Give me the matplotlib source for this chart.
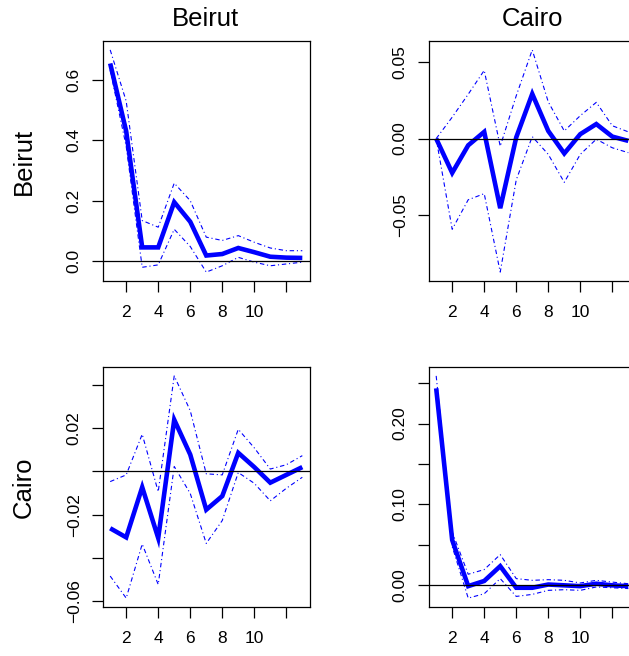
import matplotlib
matplotlib.use("Agg")
import matplotlib.pyplot as plt

plt.rcParams['font.family'] = ['Liberation Sans', 'DejaVu Sans']

periods = list(range(1, 14))
x_ticks = [2, 4, 6, 8, 10, 12]
x_ticklabels = ["2", "4", "6", "8", "10", ""]

variables = ["Beirut", "Cairo"]

# Response of Beirut to Beirut shock
bb_irf = [0.655, 0.43, 0.045, 0.045, 0.195, 0.13, 0.018, 0.023, 0.043, 0.029, 0.014, 0.011, 0.010]
bb_up = [0.700, 0.53, 0.134, 0.112, 0.258, 0.200, 0.079, 0.068, 0.084, 0.062, 0.043, 0.034, 0.034]
bb_lo = [0.633, 0.38, -0.021, -0.013, 0.105, 0.048, -0.037, -0.016, 0.012, -0.004, -0.016, -0.010, -0.004]
bb_ticks = [0.0, 0.2, 0.4, 0.6]
bb_ticklabels = ["0.0", "0.2", "0.4", "0.6"]

# Response of Cairo to Beirut shock
cb_irf = [0.0, -0.0224, -0.0044, 0.0044, -0.0455, 0.0008, 0.0292, 0.005, -0.0097, 0.0029, 0.0095, 0.0013, -0.0015]
cb_up = [0.0, 0.014, 0.029, 0.0446, -0.005, 0.028, 0.058, 0.024, 0.005, 0.015, 0.0237, 0.0084, 0.0044]
cb_lo = [0.0, -0.0593, -0.040, -0.036, -0.0873, -0.027, 0.0013, -0.0103, -0.0286, -0.0103, -0.0004, -0.006, -0.0092]
cb_ticks = [-0.05, 0.0, 0.05]
cb_ticklabels = ["-0.05", "0.00", "0.05"]

# Response of Beirut to Cairo shock
bc_irf = [-0.0263, -0.0305, -0.0073, -0.0308, 0.0239, 0.0078, -0.0177, -0.0114, 0.0086, 0.0020, -0.0052, -0.0016, 0.0020]
bc_up = [-0.0047, -0.0016, 0.0172, -0.0094, 0.0442, 0.0281, -0.0011, -0.0016, 0.0195, 0.0109, 0.0011, 0.0031, 0.0073]
bc_lo = [-0.0484, -0.0586, -0.0336, -0.0523, 0.0023, -0.0102, -0.0333, -0.0227, -0.0005, -0.0055, -0.0136, -0.0078, -0.0027]
bc_ticks = [-0.06, -0.04, -0.02, 0.0, 0.02, 0.04]
bc_ticklabels = ["-0.06", "", "-0.02", "", "0.02", ""]

# Response of Cairo to Cairo shock
cc_irf = [0.2436, 0.056, -0.001, 0.0054, 0.0237, -0.003, -0.003, 0.001, 0.0, -0.001, 0.002, 0.0, -0.001]
cc_up = [0.259, 0.066, 0.0137, 0.0195, 0.038, 0.0083, 0.0062, 0.007, 0.0062, 0.0029, 0.0062, 0.004, 0.002]
cc_lo = [0.234, 0.048, -0.0158, -0.0104, 0.0083, -0.0137, -0.0112, -0.0062, -0.0054, -0.0062, -0.002, -0.003, -0.004]
cc_ticks = [0.0, 0.05, 0.10, 0.15, 0.20, 0.25]
cc_ticklabels = ["0.00", "", "0.10", "", "0.20", ""]

W, H = 629, 656
fig = plt.figure(figsize=(W / 100, H / 100), dpi=100)

panels = [
    # (left px, top px, bottom px, irf, up, lo, ticks, labels)
    (102.5, 41, 281, bb_irf, bb_up, bb_lo, bb_ticks, bb_ticklabels),
    (428.5, 41, 281, cb_irf, cb_up, cb_lo, cb_ticks, cb_ticklabels),
    (102.5, 367, 607, bc_irf, bc_up, bc_lo, bc_ticks, bc_ticklabels),
    (428.5, 367, 607, cc_irf, cc_up, cc_lo, cc_ticks, cc_ticklabels),
]
axes = []
for (lpx, tpx, bpx, irf, up, lo, yt, ytl) in panels:
    wpx = 207.5
    ax = fig.add_axes([lpx / W, (H - bpx) / H, wpx / W, (bpx - tpx) / H])
    ax.plot(periods, up, color='#0000FF', lw=0.8, ls=(0, (4, 2.5, 1, 2.5)))
    ax.plot(periods, lo, color='#0000FF', lw=0.8, ls=(0, (4, 2.5, 1, 2.5)))
    ax.plot(periods, irf, color='#0000FF', lw=3.3, solid_joinstyle='miter', solid_capstyle='butt')
    ax.axhline(0, color='black', lw=0.9)
    ax.margins(x=0.04, y=0.04)
    ax.set_xticks(x_ticks)
    ax.set_xticklabels(x_ticklabels)
    ax.set_yticks(yt)
    ax.set_yticklabels([s.replace('-', '\u2212') for s in ytl], rotation=90, va='center')
    ax.tick_params(axis='x', length=8, width=0.9, pad=9, labelsize=12.5, direction='out')
    ax.tick_params(axis='y', length=8, width=0.9, pad=7, labelsize=12.5, direction='out')
    for s in ax.spines.values():
        s.set_linewidth(0.9)
    axes.append(ax)

fig.text(205 / W, 1 - 19 / H, variables[0], ha='center', va='center', fontsize=18.5)
fig.text(532.5 / W, 1 - 19 / H, variables[1], ha='center', va='center', fontsize=18.5)
fig.text(24 / W, 1 - 161 / H, variables[0], ha='center', va='center', fontsize=18.5, rotation=90)
fig.text(24 / W, 1 - 487 / H, variables[1], ha='center', va='center', fontsize=18.5, rotation=90)

fig.savefig("out.png", dpi=100)
